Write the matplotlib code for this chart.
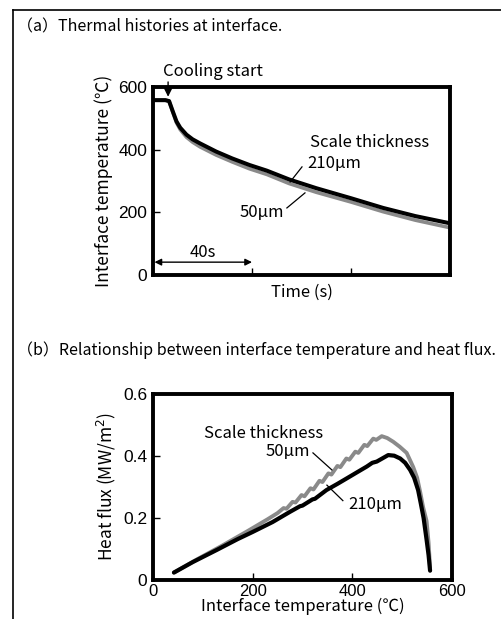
import matplotlib.pyplot as plt
from matplotlib.lines import Line2D

plt.rcParams['font.family'] = ['Noto Sans CJK JP', 'DejaVu Sans']

# (a) interface temperature during cooling
time_s = [0, 5, 6.5, 8, 9.5, 11, 13.5, 16, 19, 25.5, 32, 39, 46, 55, 66, 80, 93, 106, 120]
temp_210 = [558, 558, 555, 522, 490, 470, 448, 433, 420, 394, 372, 351, 333, 305, 277, 245, 214, 188, 165]
temp_50 = [558, 558, 555, 520, 486, 464, 440, 424, 409, 383, 361, 339, 321, 292, 264, 233, 202, 175, 151]

# (b) heat flux against interface temperature
t_50 = [42, 90, 140, 190, 230, 250, 262, 268, 280, 286, 298, 304, 316, 322, 334, 340, 352, 358,
        370, 376, 388, 394, 406, 412, 424, 430, 442, 448, 459, 470, 482, 495, 509, 522, 530,
        536, 542, 549, 553, 556]
q_50 = [0.024, 0.068, 0.112, 0.158, 0.196, 0.216, 0.232, 0.230, 0.252, 0.250, 0.274, 0.270,
        0.296, 0.292, 0.320, 0.316, 0.344, 0.340, 0.368, 0.364, 0.392, 0.388, 0.414, 0.410,
        0.436, 0.432, 0.456, 0.452, 0.464, 0.458, 0.446, 0.430, 0.410, 0.365, 0.330, 0.285,
        0.235, 0.190, 0.120, 0.040]
t_210 = [42, 80, 128, 170, 200, 240, 275, 295, 300, 320, 325, 348, 370, 389, 410, 429, 440,
         449, 460, 472, 484, 496, 506, 516, 524, 532, 537, 543, 549, 553, 556]
q_210 = [0.024, 0.058, 0.097, 0.132, 0.155, 0.187, 0.220, 0.238, 0.240, 0.260, 0.262, 0.290,
         0.310, 0.328, 0.348, 0.366, 0.378, 0.382, 0.392, 0.403, 0.401, 0.392, 0.378, 0.355,
         0.330, 0.290, 0.250, 0.200, 0.130, 0.080, 0.030]

W, H = 502, 619
fig = plt.figure(figsize=(W / 100, H / 100), dpi=100)


def box(left, top, right, bottom):
    return [left / W, 1 - bottom / H, (right - left) / W, (bottom - top) / H]


def style(ax):
    for s in ax.spines.values():
        s.set_linewidth(2.8)
    ax.tick_params(direction='in', length=5, width=1, labelsize=12.5, pad=4)
    for lab in ax.get_xticklabels() + ax.get_yticklabels():
        lab.set_family('Liberation Sans')


# outer border
fig.add_artist(Line2D([13 / W, 13 / W], [0, 1 - 10 / H], color='black', lw=1.2))
fig.add_artist(Line2D([13 / W, 1], [1 - 10 / H, 1 - 10 / H], color='black', lw=1.2))

fig.text(17 / W, 1 - 27 / H, '（a）Thermal histories at interface.', fontsize=11.5, va='center')
fig.text(17 / W, 1 - 350 / H, '（b）Relationship between interface temperature and heat flux.',
         fontsize=11.5, va='center')

# ---- (a)
ax1 = fig.add_axes(box(153, 87, 450, 275))
ax1.plot(time_s, temp_50, color='#8a8a8a', lw=2.6, solid_joinstyle='round')
ax1.plot(time_s, temp_210, color='black', lw=2.9, solid_joinstyle='round')
ax1.set_xlim(0, 120)
ax1.set_ylim(0, 600)
ax1.set_xticks([40, 80])
ax1.set_xticklabels([])
ax1.set_yticks([0, 200, 400, 600])
style(ax1)
ax1.set_xlabel('Time (s)', fontsize=12, labelpad=2)
ax1.set_ylabel('Interface temperature (℃)', fontsize=12.5, labelpad=4)

ax1.text(24.2, 651, 'Cooling start', fontsize=12, ha='center', va='center', clip_on=False)
ax1.annotate('', xy=(6.1, 560), xytext=(6.1, 625), annotation_clip=False,
             arrowprops=dict(arrowstyle='-|>', color='black', lw=1, mutation_scale=12))
ax1.text(87.3, 424, 'Scale thickness', fontsize=12, ha='center', va='center')
ax1.text(62.2, 357, '210μm', fontsize=12, ha='left', va='center')
ax1.plot([60.2, 55.4], [345, 297], color='black', lw=0.9)
ax1.text(52.9, 201, '50μm', fontsize=12, ha='right', va='center')
ax1.plot([54.1, 61.4], [214, 262], color='black', lw=0.9)
ax1.text(20, 72, '40s', fontsize=12, ha='center', va='center')
ax1.annotate('', xy=(0.6, 41), xytext=(40, 41),
             arrowprops=dict(arrowstyle='<|-|>', color='black', lw=1, mutation_scale=10,
                             shrinkA=0, shrinkB=0))

# ---- (b)
ax2 = fig.add_axes(box(153, 394, 452, 580))
ax2.plot(t_50, q_50, color='#8a8a8a', lw=2.8, solid_joinstyle='round', solid_capstyle='round')
ax2.plot(t_210, q_210, color='black', lw=3, solid_joinstyle='round', solid_capstyle='round')
ax2.set_xlim(0, 600)
ax2.set_ylim(0, 0.6)
ax2.set_xticks([0, 200, 400, 600])
ax2.set_xticklabels(['0', '200', '400', '600'])
ax2.set_yticks([0, 0.2, 0.4, 0.6])
ax2.set_yticklabels(['0', '0.2', '0.4', '0.6'])
style(ax2)
ax2.tick_params(axis='x', labelsize=12, pad=3)
ax2.set_xlabel('Interface temperature (℃)', fontsize=12, labelpad=-1)
ax2.set_ylabel('Heat flux (MW/m$^2$)', fontsize=12.5, labelpad=4)

ax2.text(221, 0.474, 'Scale thickness', fontsize=12, ha='center', va='center')
ax2.text(315, 0.413, '50μm', fontsize=12, ha='right', va='center')
ax2.plot([321, 359], [0.41, 0.355], color='black', lw=0.9)
ax2.text(391, 0.242, '210μm', fontsize=12, ha='left', va='center')
ax2.plot([381, 349], [0.256, 0.306], color='black', lw=0.9)

fig.savefig('out.png', dpi=100)
